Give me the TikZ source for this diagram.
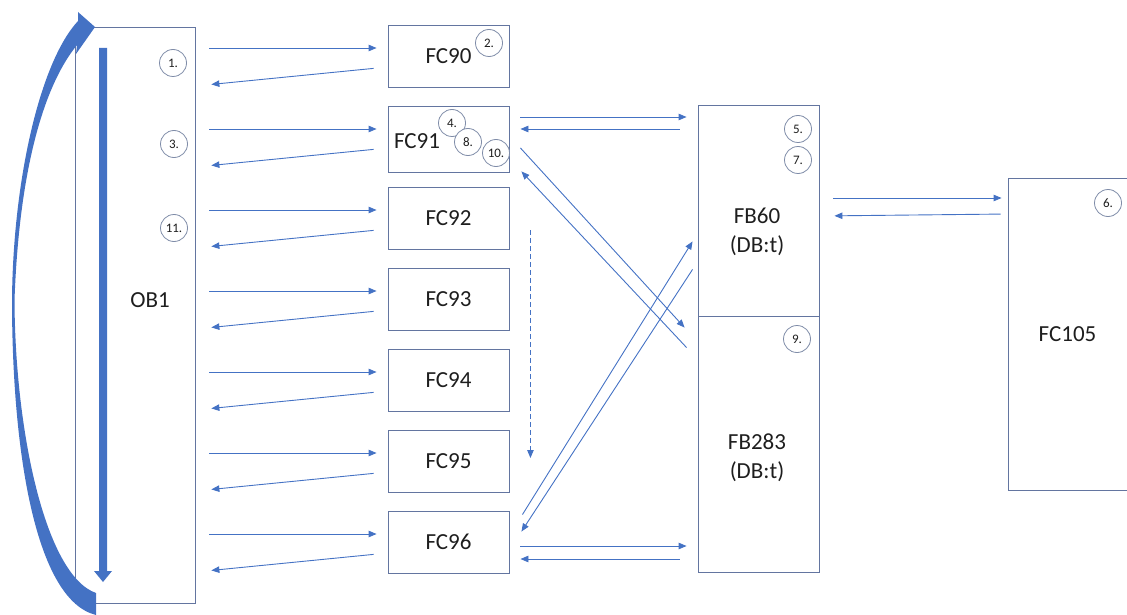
\documentclass[tikz,border=0pt]{standalone}
\usepackage{fontspec}
\setmainfont{Carlito}
\usetikzlibrary{arrows.meta,calc}
\definecolor{arrblue}{HTML}{4472C4}
\definecolor{boxline}{HTML}{6375A0}
\definecolor{circline}{HTML}{7F8CA8}
\definecolor{txt}{HTML}{1E1E1E}
\begin{document}
\begin{tikzpicture}[x=1pt,y=-1pt,
  blk/.style={draw=boxline, line width=0.9pt, inner sep=0pt, align=center,
    font=\fontsize{23}{29}\selectfont, text=txt},
  lbl/.style={inner sep=0pt, align=center, font=\fontsize{23}{29}\selectfont, text=txt},
  num/.style={circle, draw=circline, line width=0.8pt, minimum size=27pt,
    inner sep=0pt, fill=white, font=\fontsize{13}{14}\selectfont, text=txt},
  arr/.style={draw=arrblue, line width=0.9pt, -{Triangle[length=8pt,width=6.5pt]}},
]
\useasboundingbox (0,0) rectangle (1127,615);

% OB1
\node[blk, minimum width=120pt, minimum height=576pt] (ob1) at (135,315) {};
\node[lbl] (ob1t) at (150,300) {OB1};

% FC boxes
\node[blk, minimum width=121pt, minimum height=62pt] (fc90) at (448.5,56) {FC90};
\node[blk, minimum width=121pt, minimum height=66pt] (fc91) at (448.5,139) {};
\node[lbl] (fc91t) at (417,141) {FC91};
\node[blk, minimum width=121pt, minimum height=62pt] (fc92) at (448.5,218) {FC92};
\node[blk, minimum width=121pt, minimum height=62pt] (fc93) at (448.5,299) {FC93};
\node[blk, minimum width=121pt, minimum height=62pt] (fc94) at (448.5,380) {FC94};
\node[blk, minimum width=121pt, minimum height=62pt] (fc95) at (448.5,461) {FC95};
\node[blk, minimum width=121pt, minimum height=62pt] (fc96) at (448.5,542) {FC96};

% FB boxes
\node[blk, minimum width=121pt, minimum height=211pt] (fb60) at (758.5,210.5) {};
\node[lbl] (fb60t) at (757,232) {FB60\\(DB:t)};
\node[blk, minimum width=121pt, minimum height=256pt] (fb283) at (758.5,444) {};
\node[lbl] (fb283t) at (757,458) {FB283\\(DB:t)};

% FC105
\node[blk, minimum width=119pt, minimum height=312pt] (fc105) at (1067.5,334) {FC105};

% numbered circles
\node[num] (n1) at (173,63) {1.};
\node[num] (n3) at (174,144) {3.};
\node[num] (n11) at (174,228) {11.};
\node[num] (n2) at (489,43) {2.};
\node[num] (n4) at (452,123) {4.};
\node[num] (n8) at (468,142) {8.};
\node[num] (n10) at (496,153) {10.};
\node[num] (n5) at (798,129) {5.};
\node[num] (n7) at (798,160) {7.};
\node[num] (n9) at (797,339) {9.};
\node[num] (n6) at (1108,203) {6.};

% OB1 <-> FC arrows
\foreach \n [count=\k from 0] in {fc90,fc91,fc92,fc93,fc94,fc95,fc96} {
  \pgfmathsetmacro\ya{48+81*\k}
  \pgfmathsetmacro\yb{67+81*\k}
  \pgfmathsetmacro\yc{86+81*\k}
  \draw[arr, shorten <=14pt, shorten >=11pt] (ob1.east |- 0,\ya) -- (\n.west |- 0,\ya);
  \draw[arr, shorten <=14pt, shorten >=16pt] (\n.west |- 0,\yb) -- (ob1.east |- 0,\yc);
}

% FC91 <-> FB60
\draw[arr, shorten <=11pt, shorten >=11pt] (fc91.east |- 0,117) -- (fb60.west |- 0,117);
\draw[arr, shorten <=18pt, shorten >=11pt] (fb60.west |- 0,129) -- (fc91.east |- 0,129);

% FC96 <-> FB283
\draw[arr, shorten <=11pt, shorten >=11pt] (fc96.east |- 0,546) -- (fb283.west |- 0,546);
\draw[arr, shorten <=18pt, shorten >=11pt] (fb283.west |- 0,559) -- (fc96.east |- 0,559);

% FB60 <-> FC105
\draw[arr, shorten <=14pt, shorten >=6pt] (fb60.east |- 0,198) -- (fc105.west |- 0,198);
\draw[arr, shorten <=7pt, shorten >=15pt] (fc105.west |- 0,214) -- (fb60.east |- 0,216);

% diagonals
\draw[arr] ($(fc91.east)+(11,9)$) -- ($(fb283.north west)+(-13,12)$);
\draw[arr] ($(fb283.north west)+(-11,32)$) -- ($(fc91.south east)+(12,-1)$);
\draw[arr] ($(fc96.north east)+(13,4)$) -- ($(fb60.south west)+(-5,-75)$);
\draw[arr] ($(fb60.south west)+(-5,-47)$) -- ($(fc96.north east)+(12,21)$);

% dashed arrow
\draw[arr, dashed, dash pattern=on 5pt off 3pt] ($(fc92.east)+(21,12)$) -- ($(fc95.east)+(21,-3)$);

% thick vertical arrow
\fill[arrblue] (99,48) -- (107,48) -- (107,571) -- (112,571) -- (103,582) -- (94,571) -- (99,571) -- cycle;

% big curved arrow
\fill[arrblue] (96,615) .. controls (35,600) and (12,450) .. (12,300)
  .. controls (13,180) and (40,62) .. (78,21) -- (78,12) -- (95,27) -- (76,54) -- (77,45)
  .. controls (42,88) and (19,175) .. (14.5,300)
  .. controls (15,430) and (45,575) .. (96,593) -- cycle;
\end{tikzpicture}
\end{document}
